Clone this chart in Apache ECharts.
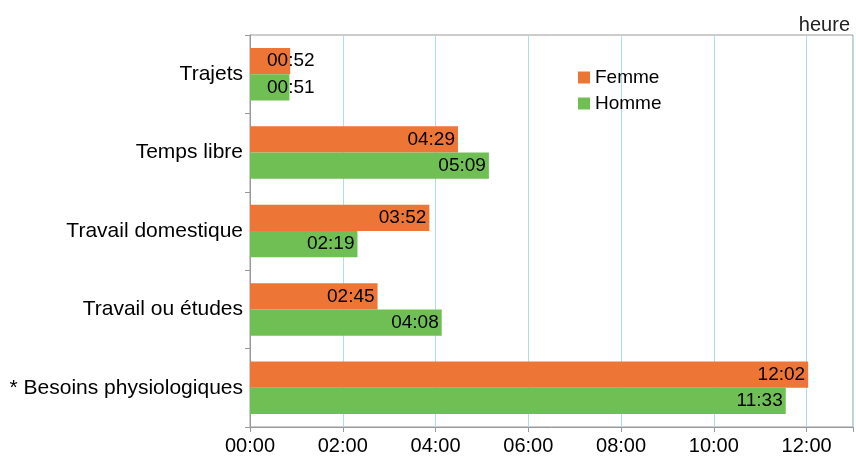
<!DOCTYPE html>
<html><head><meta charset="utf-8">
<script src="https://cdn.jsdelivr.net/npm/echarts@6/dist/echarts.min.js"></script>
<style>html,body{margin:0;padding:0;background:#fff}#c{width:856px;height:461px}</style>
</head><body><div id="c"></div>
<script>
// categories bottom to top
const categories = ['* Besoins physiologiques', 'Travail ou études', 'Travail domestique', 'Temps libre', 'Trajets'];
// minutes
const femme = [722, 165, 232, 269, 52];
const homme = [693, 248, 139, 309, 51];
const tickHours = [0, 2, 4, 6, 8, 10, 12];

function fmt(m){
  const h = Math.floor(m/60), mm = Math.round(m%60);
  return String(h).padStart(2,'0') + ':' + String(mm).padStart(2,'0');
}
const FONT = '"Liberation Sans", Arial, sans-serif';
function items(arr){
  return arr.map(v => v < 100 ? {value:v, label:{position:'insideLeft', distance:17}} : v);
}
const lbl = {show:true, position:'insideRight', color:'#000', fontSize:19, fontFamily:FONT, formatter:p=>fmt(p.value), distance:3};
const chart = echarts.init(document.getElementById('c'), null, {renderer:'canvas'});
chart.setOption({
  animation:false,
  textStyle:{fontFamily:FONT},
  title:{text:'heure', right:1, top:10, textStyle:{fontFamily:FONT, fontSize:20, fontWeight:'normal', color:'#222'}},
  legend:{
    data:['Femme','Homme'], orient:'vertical', left:573, top:63, itemWidth:12, itemHeight:12, itemGap:7,
    icon:'rect', textStyle:{fontFamily:FONT, fontSize:19, color:'#000'}
  },
  grid:{left:250, right:2, top:35, bottom:34, show:true, borderColor:'#999', borderWidth:1, containLabel:false},
  xAxis:{
    type:'value', min:0, max:780, interval:120,
    axisLine:{show:true, lineStyle:{color:'#999'}},
    axisTick:{show:true, length:5, lineStyle:{color:'#999'}},
    splitLine:{show:true, lineStyle:{color:'#a9dff0', width:1}},
    axisLabel:{fontFamily:FONT, fontSize:20, color:'#000', margin:9,
      formatter:v => tickHours.includes(v/60) ? fmt(v) : ''}
  },
  yAxis:{
    type:'category', data:categories,
    axisLine:{show:true, lineStyle:{color:'#999'}},
    axisTick:{show:true, length:5, lineStyle:{color:'#999'}},
    axisLabel:{fontFamily:FONT, fontSize:21, color:'#000', margin:7}
  },
  series:[
    {name:'Femme', type:'bar', data:items(femme), itemStyle:{color:'#ed7536'}, barCategoryGap:'33%', barGap:'0%', label:lbl},
    {name:'Homme', type:'bar', data:items(homme), itemStyle:{color:'#70bf54'}, barCategoryGap:'33%', barGap:'0%', label:lbl}
  ]
});
</script></body></html>
